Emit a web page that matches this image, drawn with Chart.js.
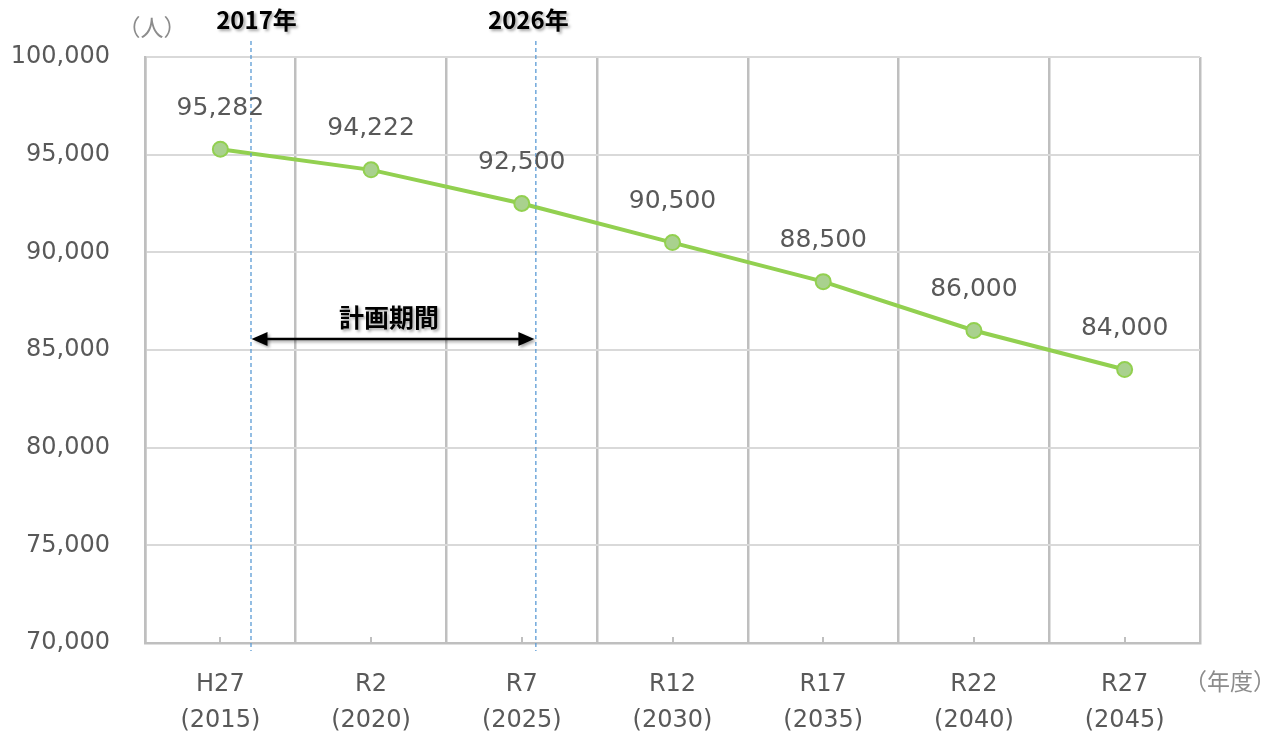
<!DOCTYPE html>
<html>
<head>
<meta charset="utf-8">
<script src="https://cdn.jsdelivr.net/npm/chart.js@4.4.1/dist/chart.umd.min.js"></script>
<style>
html,body{margin:0;padding:0;background:#fff;}
#wrap{width:1283px;height:742px;position:relative;}
</style>
</head>
<body>
<div id="wrap"><canvas id="c" width="1283" height="742"></canvas></div>
<script>
const eraLabels = ['H27','R2','R7','R12','R17','R22','R27'];
const yearLabels = ['(2015)','(2020)','(2025)','(2030)','(2035)','(2040)','(2045)'];
const population = [95282, 94222, 92500, 90500, 88500, 86000, 84000];
const yMin = 70000, yMax = 100000, yStep = 5000;
const markerLabels = ['2017年','2026年'];
const markerIndex = [0.2, 2.09];   // position in category units
const periodLabel = '計画期間';
const yUnit = '（人）';
const xUnit = '（年度）';

const labels = eraLabels.map((e,i)=>[e, yearLabels[i]]);
const fmt = v => v.toLocaleString('en-US');
const FONT = '"DejaVu Sans"';

const overlay = {
  id:'overlay',
  afterDraw(chart){
    const ctx = chart.ctx, xs = chart.scales.x, ca = chart.chartArea;
    const step = xs.getPixelForValue(1) - xs.getPixelForValue(0);
    const px = v => xs.getPixelForValue(0) + v*step;
    ctx.save();
    // small tick marks at category centers
    ctx.strokeStyle = '#bfbfbf'; ctx.lineWidth = 2;
    for (let i=0;i<population.length;i++){
      const x = Math.round(xs.getPixelForValue(i));
      ctx.beginPath(); ctx.moveTo(x, ca.bottom); ctx.lineTo(x, ca.bottom-6); ctx.stroke();
    }
    // dashed lines
    ctx.strokeStyle = '#5b9bd5'; ctx.lineWidth = 1.3; ctx.setLineDash([4,3]);
    const mx = markerIndex.map(px);
    mx.forEach(x=>{ ctx.beginPath(); ctx.moveTo(x+0.5, 41); ctx.lineTo(x+0.5, ca.bottom+8); ctx.stroke(); });
    ctx.setLineDash([]);
    // marker labels
    ctx.shadowColor = 'rgba(0,0,0,0.35)'; ctx.shadowOffsetX = 2; ctx.shadowOffsetY = 2; ctx.shadowBlur = 3;
    ctx.fillStyle = '#000';
    ctx.font = 'bold 24px "Noto Sans CJK JP"';
    ctx.textAlign = 'center'; ctx.textBaseline = 'middle';
    const labOff = [6, -7];
    markerLabels.forEach((t,i)=>{ ctx.fillText(t, mx[i]+labOff[i], 20); });
    // period label
    ctx.font = 'bold 25px "Noto Sans CJK JP"';
    ctx.fillText(periodLabel, (mx[0]+mx[1])/2 - 4, 317);
    // arrow
    const ay = 339, x1 = mx[0]+1, x2 = mx[1]-1;
    ctx.strokeStyle = '#000'; ctx.lineWidth = 2.5;
    ctx.beginPath(); ctx.moveTo(x1+10, ay); ctx.lineTo(x2-10, ay); ctx.stroke();
    ctx.beginPath(); ctx.moveTo(x1, ay); ctx.lineTo(x1+16, ay-7); ctx.lineTo(x1+16, ay+7); ctx.closePath(); ctx.fill();
    ctx.beginPath(); ctx.moveTo(x2, ay); ctx.lineTo(x2-16, ay-7); ctx.lineTo(x2-16, ay+7); ctx.closePath(); ctx.fill();
    ctx.shadowColor = 'transparent'; ctx.shadowBlur = 0; ctx.shadowOffsetX = 0; ctx.shadowOffsetY = 0;
    // data labels
    ctx.fillStyle = '#595959';
    ctx.font = '25px ' + FONT;
    const meta = chart.getDatasetMeta(0);
    meta.data.forEach((pt,i)=>{ ctx.fillText(fmt(population[i]), pt.x, pt.y - 41); });
    // units
    ctx.fillStyle = '#8c8c8c';
    ctx.font = '23px "Noto Sans CJK JP"';
    ctx.fillText(yUnit, 152, 27);
    ctx.fillText(xUnit, 1230, 681);
    ctx.restore();
  }
};

new Chart(document.getElementById('c'), {
  type:'line',
  data:{ labels, datasets:[{
    data: population,
    borderColor:'#92d050', borderWidth:4,
    backgroundColor:'#a9d18e', pointBackgroundColor:'#a9d18e', pointBorderColor:'#92d050',
    pointBorderWidth:2, pointRadius:7.5, tension:0
  }]},
  options:{
    responsive:false, animation:false,
    layout:{ padding:{ left:0, right:83, top:57, bottom:0 } },
    plugins:{ legend:{display:false}, tooltip:{enabled:false} },
    scales:{
      x:{
        offset:true,
        grid:{ offset:true, color:'#bfbfbf', lineWidth:2.5, drawTicks:false },
        border:{ color:'#bfbfbf', width:2.5 },
        ticks:{ color:'#595959', font:{ family:FONT, size:24, lineHeight:1.5 }, padding:24, maxRotation:0, autoSkip:false },
        afterFit(s){ s.height = 99; }
      },
      y:{
        min:yMin, max:yMax,
        grid:{ color:'#d9d9d9', lineWidth:2, drawTicks:false },
        border:{ color:'#bfbfbf', width:2.5 },
        ticks:{ stepSize:yStep, color:'#595959', font:{ family:FONT, size:24 }, padding:35, callback:v=>fmt(v) },
        afterFit(s){ s.width = 145; }
      }
    }
  },
  plugins:[overlay]
});
</script>
</body>
</html>
